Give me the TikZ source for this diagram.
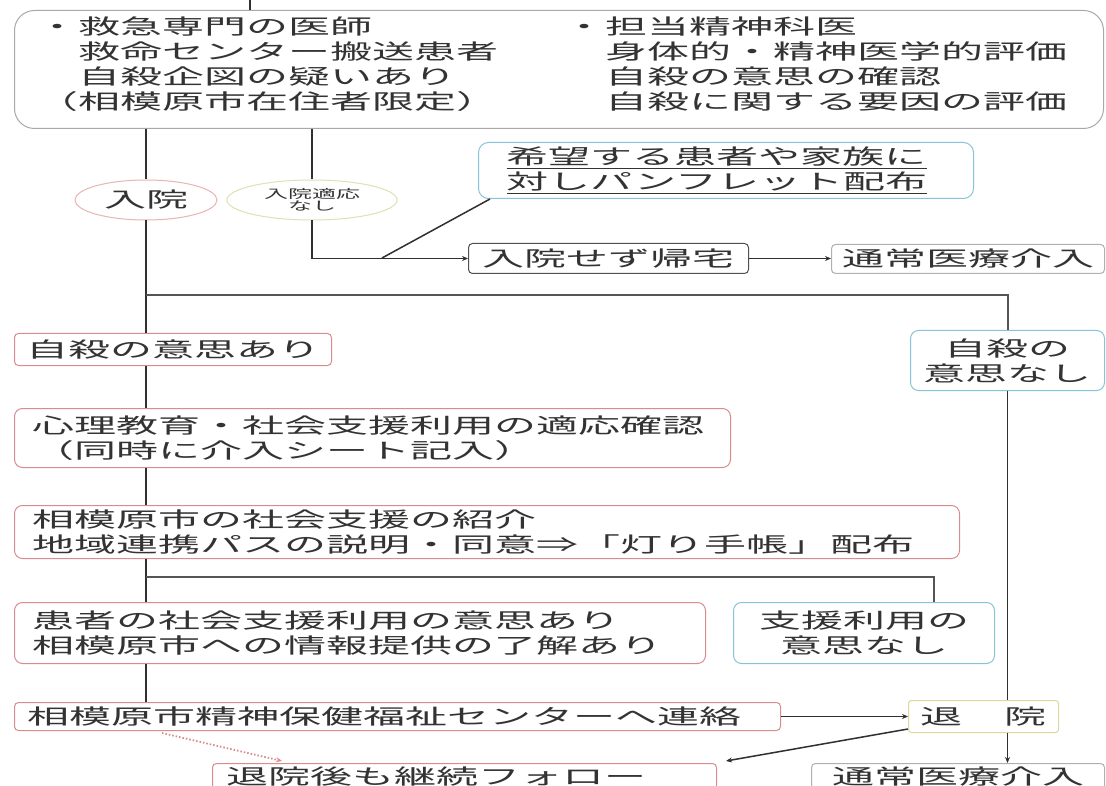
\documentclass[tikz,border=0pt]{standalone}
\usepackage{fontspec}
\newfontfamily\jp[FakeStretch=2.0]{Noto Sans CJK JP}
\usetikzlibrary{shapes.geometric,arrows.meta,calc}
\definecolor{txtc}{HTML}{333333}
\definecolor{linec}{HTML}{303030}
\definecolor{hlc}{HTML}{555555}
\definecolor{grayb}{HTML}{A8A8A8}
\definecolor{pinkb}{HTML}{D88C8C}
\definecolor{blueb}{HTML}{88C4D8}
\definecolor{yelb}{HTML}{D8D8A0}
\definecolor{ellp}{HTML}{E8B4B4}
\definecolor{elly}{HTML}{DCE2B4}
\definecolor{darkb}{HTML}{505050}
\definecolor{tsub}{HTML}{B0B0B0}
\tikzset{
  txt/.style={text=txtc, font=\jp\fontsize{21}{25}\selectfont},
  lbox/.style={txt, draw, anchor=north west, align=left, line width=1pt, inner ysep=0pt},
  cbox/.style={txt, draw, anchor=north west, align=center, line width=1pt, inner sep=0pt},
  conn/.style={draw=linec, line width=1.5pt},
  hconn/.style={draw=hlc, line width=2pt},
  arr/.style={conn, -{Stealth[length=6pt,width=5pt]}},
}
\begin{document}
\begin{tikzpicture}[x=1pt,y=-1pt]
\useasboundingbox[fill=white] (0,0) rectangle (1106,786);

% top box
\node[lbox, draw=grayb, rounded corners=20pt, minimum width=1089pt, minimum height=118pt, inner sep=0pt] (top) at (14,10) {};
\node[txt, anchor=west, align=left, inner sep=0pt] (topL) at (36,64) {・救急専門の医師\\　救命センター搬送患者\\　自殺企図の疑いあり\\（相模原市在住者限定）};
\node[txt, anchor=west, align=left, inner sep=0pt] (topR) at (563,64) {・担当精神科医\\　身体的・精神医学的評価\\　自殺の意思の確認\\　自殺に関する要因の評価};

% ellipses
\node[txt, ellipse, draw=ellp, line width=1pt, minimum width=142pt, minimum height=40pt, inner sep=0pt] (nyuin) at (146,200) {入院};
\node[ellipse, draw=elly, line width=1pt, minimum width=170pt, minimum height=40pt, inner sep=0pt, text=txtc, font=\jp\fontsize{12}{12}\selectfont, align=center] (tekiou) at (312,200) {入院適応\\なし};

% pamphlet
\node[lbox, draw=blueb, rounded corners=10pt, text width=439pt, inner xsep=28pt, minimum height=56pt] (pamph) at (478,142) {\underline{希望する患者や家族に}\\\underline{対しパンフレット配布}};

\node[cbox, draw=darkb, rounded corners=4pt, minimum width=280pt, minimum height=30pt] (kitaku) at (468,243) {入院せず帰宅};
\node[cbox, draw=tsub, rounded corners=4pt, minimum width=273pt, minimum height=29pt] (tsujo1) at (831,244) {通常医療介入};

% left column
\node[lbox, draw=pinkb, rounded corners=4pt, text width=293pt, inner xsep=12pt, minimum height=32pt] (ishiari) at (14,333) {自殺の意思あり};
\node[cbox, draw=blueb, rounded corners=8pt, minimum width=194pt, minimum height=60pt] (ishinashi) at (910,330) {自殺の\\意思なし};
\node[lbox, draw=pinkb, rounded corners=8pt, text width=680pt, inner xsep=18pt, minimum height=59pt] (shinri) at (14,408) {心理教育・社会支援利用の適応確認\\（同時に介入シート記入）};
\node[lbox, draw=pinkb, rounded corners=8pt, text width=909pt, inner xsep=18pt, minimum height=53pt] (shakai) at (14,505) {相模原市の社会支援の紹介\\地域連携パスの説明・同意⇒「灯り手帳」配布};
\node[lbox, draw=pinkb, rounded corners=8pt, text width=655pt, inner xsep=18pt, minimum height=61pt] (kanja) at (14,602) {患者の社会支援利用の意思あり\\相模原市への情報提供の了解あり};
\node[cbox, draw=blueb, rounded corners=8pt, minimum width=261pt, minimum height=61pt] (shien) at (733,602) {支援利用の\\意思なし};
\node[lbox, draw=pinkb, rounded corners=4pt, text width=740pt, inner xsep=13pt, minimum height=28pt] (renraku) at (14,702) {相模原市精神保健福祉センターへ連絡};
\node[cbox, draw=yelb, rounded corners=3pt, minimum width=150pt, minimum height=32pt] (taiin) at (908,700) {退　院};
\node[lbox, draw=pinkb, rounded corners=4pt, text width=476pt, inner xsep=14pt, minimum height=26pt] (follow) at (212,763) {退院後も継続フォロー};
\node[cbox, draw=tsub, rounded corners=4pt, minimum width=293pt, minimum height=26pt] (tsujo2) at (811,763) {通常医療介入};

% connectors
\coordinate (tk) at (250,0);
\draw[conn] (tk) -- (tk |- top.north);
\draw[conn] (nyuin.north |- top.south) -- (nyuin.north);
\draw[conn] (tekiou.north |- top.south) -- (tekiou.north);
\draw[arr] (tekiou.south) -- (tekiou.south |- kitaku.west) -- (kitaku.west);
\coordinate (j1) at (382,258);
\draw[conn] (j1) -- ($(pamph.south west)+(12,0)$);
\draw[arr] (kitaku.east) -- (kitaku.east -| tsujo1.west);

\draw[conn] (nyuin.south) -- (nyuin.south |- ishiari.north);
\coordinate (j2) at (146,295);
\draw[hconn] (j2) -- (ishinashi.north |- j2) -- (ishinashi.north);
\coordinate (sp) at (146,0);
\draw[conn] (sp |- ishiari.south) -- (sp |- shinri.north);
\draw[conn] (sp |- shinri.south) -- (sp |- shakai.north);
\draw[conn] (sp |- shakai.south) -- (sp |- kanja.north);
\coordinate (j3) at (146,577);
\coordinate (k3) at (934,577);
\draw[hconn] (j3) -- (k3) -- (k3 |- shien.north);
\draw[conn] (sp |- kanja.south) -- (sp |- renraku.north);

\draw[conn] (ishinashi.south) -- (ishinashi.south |- taiin.north);
\draw[arr] (ishinashi.south |- taiin.south) -- (ishinashi.south |- tsujo2.north);
\draw[arr] (renraku.east) -- (taiin.west);
\draw[arr] ($(taiin.south west)+(0,-4)$) -- ($(follow.north east)+(9,-2)$);
\draw[arr, draw=pinkb, dotted, line width=1.8pt] ($(renraku.south west)+(148,2)$) -- ($(follow.north west)+(70,-2)$);
\end{tikzpicture}
\end{document}
